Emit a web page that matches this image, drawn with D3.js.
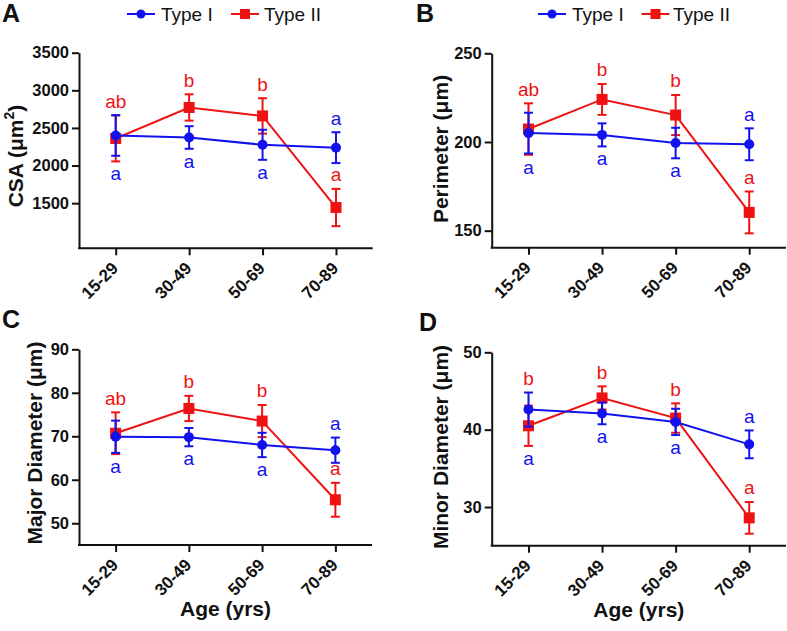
<!DOCTYPE html>
<html><head><meta charset="utf-8">
<script src="https://cdn.jsdelivr.net/npm/d3@7"></script>
<style>body{margin:0;background:#fff} svg{display:block}</style>
</head><body>
<svg id="c" width="787" height="631"></svg>
<script>
// ---------- data ----------
const categories = ["15-29", "30-49", "50-69", "70-89"];
const seriesNames = ["Type I", "Type II"];

const csaType1 = [2400, 2373, 2276, 2238];
const csaType1Err = [270, 150, 200, 205];
const csaType2 = [2360, 2772, 2660, 1442];
const csaType2Err = [305, 175, 235, 248];
const csaTicks = [1500, 2000, 2500, 3000, 3500];
const csaLetters1 = ["a", "a", "a", "a"];
const csaLetters2 = ["ab", "b", "b", "a"];

const perimType1 = [205, 204, 199.4, 198.7];
const perimType1Err = [11.5, 6.5, 8.6, 9];
const perimType2 = [207.3, 224, 215.2, 160.3];
const perimType2Err = [14.5, 8.7, 11.3, 11.8];
const perimTicks = [150, 200, 250];
const perimLetters1 = ["a", "a", "a", "a"];
const perimLetters2 = ["ab", "b", "b", "a"];

const majorType1 = [69.9, 69.8, 68.0, 66.8];
const majorType1Err = [3.7, 2.1, 2.8, 2.9];
const majorType2 = [70.7, 76.4, 73.5, 55.4];
const majorType2Err = [4.8, 2.9, 3.7, 3.9];
const majorTicks = [50, 60, 70, 80, 90];
const majorLetters1 = ["a", "a", "a", "a"];
const majorLetters2 = ["ab", "b", "b", "a"];

const minorType1 = [42.6, 42.1, 41.0, 38.1];
const minorType1Err = [2.2, 1.4, 1.7, 1.8];
const minorType2 = [40.5, 44.1, 41.5, 28.6];
const minorType2Err = [2.6, 1.5, 1.9, 2.05];
const minorTicks = [30, 40, 50];
const minorLetters1 = ["a", "a", "a", "a"];
const minorLetters2 = ["b", "b", "b", "a"];

// which side of the error bars each letter sits on
const sides1 = ["below", "below", "below", "above"];
const sides2 = ["above", "above", "above", "above"];

// ---------- style / layout ----------
const BLUE = "#1212ee", RED = "#ee1212", INK = "#111";
const FONT = "'Liberation Sans', Arial, Helvetica, sans-serif";
const svg = d3.select("#c");

const panels = [
  { id: "A", t1: csaType1, e1: csaType1Err, t2: csaType2, e2: csaType2Err,
    l1: csaLetters1, l2: csaLetters2, ticks: csaTicks, domain: [900, 3500],
    ylabel: ["CSA (\u03BCm", "2", ")"], xlabel: null,
    L: { x0: 79, x1: 372.7, yt: 52.7, yb: 248.3, px: 2, py: 22, ylx: 23, ylc: 156,
         legend: { y: 14, b1: 127, t1: 161, b2: 231, t2: 264 } } },
  { id: "B", t1: perimType1, e1: perimType1Err, t2: perimType2, e2: perimType2Err,
    l1: perimLetters1, l2: perimLetters2, ticks: perimTicks, domain: [140.4, 250],
    ylabel: ["Perimeter (\u03BCm)"], xlabel: null,
    L: { x0: 491.7, x1: 786, yt: 53.3, yb: 247.7, px: 416, py: 22, ylx: 448, ylc: 149,
         legend: { y: 14, b1: 538, t1: 572, b2: 641.5, t2: 673 } } },
  { id: "C", t1: majorType1, e1: majorType1Err, t2: majorType2, e2: majorType2Err,
    l1: majorLetters1, l2: majorLetters2, ticks: majorTicks, domain: [45, 90],
    ylabel: ["Major Diameter (\u03BCm)"], xlabel: "Age (yrs)",
    L: { x0: 79, x1: 372, yt: 349.3, yb: 545, px: 2, py: 328, ylx: 42, ylc: 443,
         xly: 616 } },
  { id: "D", t1: minorType1, e1: minorType1Err, t2: minorType2, e2: minorType2Err,
    l1: minorLetters1, l2: minorLetters2, ticks: minorTicks, domain: [25, 50],
    ylabel: ["Minor Diameter (\u03BCm)"], xlabel: "Age (yrs)",
    L: { x0: 491.7, x1: 786, yt: 352.3, yb: 545.7, px: 419, py: 331, ylx: 448, ylc: 447,
         xly: 617 } }
];

function drawPanel(p) {
  const L = p.L;
  const g = svg.append("g");
  const x = d3.scalePoint().domain(categories).range([L.x0, L.x1]).padding(0.5);
  const y = d3.scaleLinear().domain(p.domain).range([L.yb, L.yt]);

  // y axis
  const ga = g.append("g").attr("transform", `translate(${L.x0},0)`)
    .call(d3.axisLeft(y).tickValues(p.ticks).tickFormat(d3.format("d"))
      .tickSize(7).tickPadding(3).tickSizeOuter(0));
  ga.selectAll("path,line").attr("stroke", INK).attr("stroke-width", 2);
  ga.selectAll("text").attr("font-family", FONT).attr("font-size", 16.5)
    .attr("font-weight", "bold").attr("fill", INK);

  // x axis
  const gx = g.append("g").attr("transform", `translate(0,${L.yb})`)
    .call(d3.axisBottom(x).tickSize(7).tickSizeOuter(0));
  gx.selectAll("path,line").attr("stroke", INK).attr("stroke-width", 2);
  gx.selectAll("text").attr("font-family", FONT).attr("font-size", 17)
    .attr("font-weight", "bold").attr("fill", INK)
    .attr("y", 0).attr("dy", 0).attr("text-anchor", "end")
    .attr("transform", "translate(3,21) rotate(-45)");
  gx.select(".domain").attr("d", `M${L.x0 - 1},0H${L.x1}`);

  // panel letter
  g.append("text").attr("x", L.px).attr("y", L.py).text(p.id)
    .attr("font-family", FONT).attr("font-size", 25).attr("font-weight", "bold").attr("fill", INK);

  // y label
  const yl = g.append("text").attr("transform", `translate(${L.ylx},${L.ylc}) rotate(-90)`)
    .attr("text-anchor", "middle").attr("font-family", FONT).attr("font-size", 21)
    .attr("font-weight", "bold").attr("fill", INK);
  yl.append("tspan").text(p.ylabel[0]);
  if (p.ylabel.length > 1) {
    yl.append("tspan").text(p.ylabel[1]).attr("font-size", 14).attr("dy", -9);
    yl.append("tspan").text(p.ylabel[2]).attr("dy", 9);
  }

  // x label
  if (p.xlabel) {
    g.append("text").attr("x", (L.x0 + L.x1) / 2).attr("y", L.xly).attr("text-anchor", "middle")
      .text(p.xlabel).attr("font-family", FONT).attr("font-size", 21)
      .attr("font-weight", "bold").attr("fill", INK);
  }

  const series = [
    { v: p.t2, e: p.e2, color: RED, shape: "square", letters: p.l2, sides: sides2 },
    { v: p.t1, e: p.e1, color: BLUE, shape: "circle", letters: p.l1, sides: sides1 }
  ];
  const line = d3.line().x((d, i) => x(categories[i])).y(d => y(d));

  series.forEach(s => {
    const sg = g.append("g");
    sg.append("path").attr("d", line(s.v)).attr("fill", "none")
      .attr("stroke", s.color).attr("stroke-width", 2);
    s.v.forEach((v, i) => {
      const cx = x(categories[i]);
      const top = y(v + s.e[i]), bot = y(v - s.e[i]);
      sg.append("line").attr("x1", cx).attr("x2", cx).attr("y1", top).attr("y2", bot)
        .attr("stroke", s.color).attr("stroke-width", 2);
      [top, bot].forEach(yy => sg.append("line").attr("x1", cx - 4.5).attr("x2", cx + 4.5)
        .attr("y1", yy).attr("y2", yy).attr("stroke", s.color).attr("stroke-width", 2));
      if (s.shape === "circle") {
        sg.append("circle").attr("cx", cx).attr("cy", y(v)).attr("r", 5).attr("fill", s.color);
      } else {
        sg.append("rect").attr("x", cx - 5.5).attr("y", y(v) - 5.5).attr("width", 11)
          .attr("height", 11).attr("fill", s.color);
      }
    });
  });

  // significance letters
  series.forEach((s, si) => {
    const o = series[1 - si];
    s.letters.forEach((txt, i) => {
      const cx = x(categories[i]);
      const hi = s.v[i] + s.e[i], lo = s.v[i] - s.e[i];
      const ohi = o.v[i] + o.e[i], olo = o.v[i] - o.e[i];
      let yy;
      if (s.sides[i] === "above") {
        const a = (hi >= olo && hi <= ohi) ? ohi : hi;
        yy = y(a) - 7.5;
      } else {
        const a = (lo >= olo && lo <= ohi) ? olo : lo;
        yy = y(a) + 19;
      }
      g.append("text").attr("x", cx).attr("y", yy).attr("text-anchor", "middle")
        .text(txt).attr("font-family", FONT).attr("font-size", 19).attr("fill", s.color);
    });
  });

  // legend
  if (L.legend) {
    const lg = L.legend;
    const items = [
      { name: seriesNames[0], color: BLUE, shape: "circle", bx: lg.b1, tx: lg.t1 },
      { name: seriesNames[1], color: RED, shape: "square", bx: lg.b2, tx: lg.t2 }
    ];
    items.forEach(it => {
      g.append("line").attr("x1", it.bx).attr("x2", it.bx + 28).attr("y1", lg.y).attr("y2", lg.y)
        .attr("stroke", it.color).attr("stroke-width", 2);
      if (it.shape === "circle") {
        g.append("circle").attr("cx", it.bx + 14).attr("cy", lg.y).attr("r", 4.5).attr("fill", it.color);
      } else {
        g.append("rect").attr("x", it.bx + 14 - 5).attr("y", lg.y - 5).attr("width", 10)
          .attr("height", 10).attr("fill", it.color);
      }
      g.append("text").attr("x", it.tx).attr("y", lg.y + 6.5).text(it.name)
        .attr("font-family", FONT).attr("font-size", 19).attr("fill", INK);
    });
  }
}

panels.forEach(drawPanel);
</script>
</body></html>
